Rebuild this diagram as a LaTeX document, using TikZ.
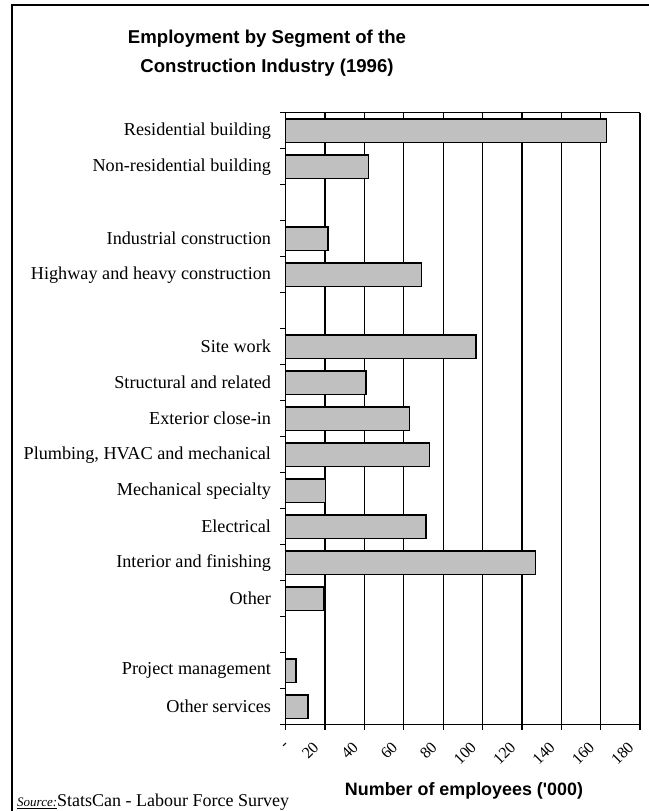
\documentclass[tikz,border=0pt]{standalone}
\usepackage{fontspec}
\setmainfont{Liberation Serif}
\newfontfamily\chartsans{Liberation Sans}
\definecolor{barfill}{HTML}{C0C0C0}
\tikzset{
	barbox/.style={draw, line width=1.3bp, fill=barfill},
	gridln/.style={line width=1.2bp},
	catlabel/.style={anchor=east, inner sep=0pt, font=\fontsize{18.2bp}{20bp}\selectfont},
	ticklabel/.style={anchor=east, inner sep=0pt, rotate=45, font=\fontsize{16bp}{18bp}\selectfont},
	titlefont/.style={inner sep=0pt, font=\chartsans\bfseries\fontsize{18.6bp}{22bp}\selectfont}
}
\begin{document}
\begin{tikzpicture}[x=1bp, y=-1bp]
				\useasboundingbox (0,0) rectangle (649,811);
				\draw[line width=2bp] (12,815) -- (12,5) -- (655,5);

				\node[titlefont, anchor=base] (title1) at (267,44) {Employment by Segment of the};
				\node[titlefont, anchor=base] (title2) at (267,72.7) {Construction Industry (1996)};

				\begin{scope}[shift={(285.7,112.7)}, x=1.9686bp, y=-36bp]
					\foreach \v in {20,40,...,180}
						\draw[gridln] (\v,0) -- (\v,17);
					\foreach \s/\v/\name in {0/163/Residential building, 1/42/Non-residential building,
							3/21.5/Industrial construction, 4/69/Highway and heavy construction,
							6/96.6/Site work, 7/40.8/Structural and related, 8/63/Exterior close-in,
							9/73.2/{Plumbing, HVAC and mechanical}, 10/20.1/Mechanical specialty,
							11/71.2/Electrical, 12/127/Interior and finishing, 13/19.3/Other,
							15/5.2/Project management, 16/11.3/Other services}
					{
						\draw[barbox] (0,\s+0.175) rectangle (\v,\s+0.825);
						\node[catlabel] (cat\s) at ([xshift=-14.5bp]0,\s+0.5) {\name};
					}
					\draw[gridln] (0,0) -- (180,0);
					\draw[gridln] (0,0) -- (0,17) -- (180,17);
					\foreach \s in {0,...,17}
						\draw[gridln] (0,\s) -- ++(-5.7bp,0);
					\foreach \v in {0,20,...,180}
						\draw[gridln] (\v,17) -- ++(0,-5.5bp);
					\foreach \v in {20,40,...,180}
						\node[ticklabel] (tick\v) at ([xshift=-9bp,yshift=-20bp]\v,17) {\v};
					\node[ticklabel, anchor=center] (tick0) at ([yshift=-21bp]0,17) {-};
				\end{scope}

				\node[titlefont, font=\chartsans\bfseries\fontsize{17.9bp}{20bp}\selectfont, anchor=base] (xtitle) at (464,795) {Number of employees (\textquotesingle 000)};
				\node[anchor=base west, inner sep=0pt, font=\fontsize{13bp}{14bp}\selectfont\itshape] (srcnote) at (17,806.5) {\underline{Source:}};
				\node[anchor=base west, inner sep=0pt, font=\fontsize{18bp}{20bp}\selectfont] (srcname) at (57,806.5) {StatsCan - Labour Force Survey};
\end{tikzpicture}
\end{document}
